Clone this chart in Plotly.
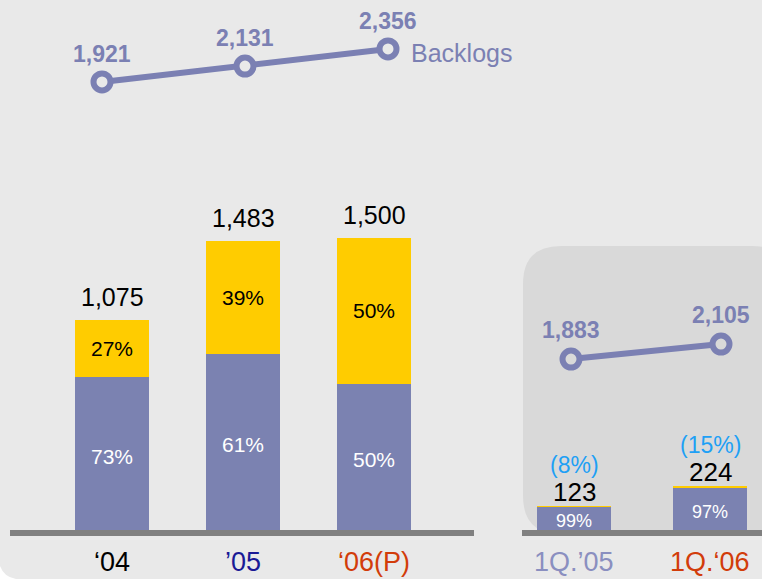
import plotly.graph_objects as go

# ---------------- data ----------------
years = ["‘04", "’05", "‘06(P)"]
year_colors = ["#000000", "#1a1a96", "#d23c0a"]
totals = [1075, 1483, 1500]
blue_pct = [73, 61, 50]
yellow_pct = [27, 39, 50]

backlog_years = [1921, 2131, 2356]

quarters = ["1Q.’05", "1Q.‘06"]
quarter_colors = ["#8a8fc0", "#d23c0a"]
q_totals = [123, 224]
q_blue_pct = [99, 97]
q_yellow_pct = [1, 3]
q_growth = ["(8%)", "(15%)"]
backlog_quarters = [1883, 2105]

# ---------------- styles ----------------
W, H = 762, 579
BG = "#e9e9e9"
PANEL = "#d9d9d9"
BLUE = "#7b82b1"
YELLOW = "#ffcc00"
PURPLE = "#7b80b3"
FONT = "Arial, Liberation Sans, sans-serif"


def px(xp):
    return xp / W


def py(yp):
    return (H - yp) / H


fig = go.Figure()

# derived stacked values
blue_vals = [t * p / 100 for t, p in zip(totals, blue_pct)]
yellow_vals = [t * p / 100 for t, p in zip(totals, yellow_pct)]
q_blue_vals = [t * p / 100 for t, p in zip(q_totals, q_blue_pct)]
q_yellow_vals = [t * p / 100 for t, p in zip(q_totals, q_yellow_pct)]

fig.add_trace(go.Bar(x=years, y=blue_vals, marker=dict(color=BLUE, line=dict(width=0)),
                     width=0.565, xaxis="x", yaxis="y", hoverinfo="skip"))
fig.add_trace(go.Bar(x=years, y=yellow_vals, marker=dict(color=YELLOW, line=dict(width=0)),
                     width=0.565, xaxis="x", yaxis="y", hoverinfo="skip"))
fig.add_trace(go.Bar(x=quarters, y=q_blue_vals, marker=dict(color=BLUE, line=dict(width=0)),
                     width=0.544, xaxis="x2", yaxis="y2", hoverinfo="skip"))
fig.add_trace(go.Bar(x=quarters, y=q_yellow_vals, marker=dict(color=YELLOW, line=dict(width=0)),
                     width=0.544, xaxis="x2", yaxis="y2", hoverinfo="skip"))

# backlog lines
fig.add_trace(go.Scatter(x=years, y=backlog_years, mode="lines+markers", xaxis="x3", yaxis="y3",
                         line=dict(color=PURPLE, width=6),
                         marker=dict(size=17, color=BG, line=dict(color=PURPLE, width=6)),
                         cliponaxis=False, hoverinfo="skip"))
fig.add_trace(go.Scatter(x=quarters, y=backlog_quarters, mode="lines+markers", xaxis="x4", yaxis="y4",
                         line=dict(color=PURPLE, width=6),
                         marker=dict(size=17, color=PANEL, line=dict(color=PURPLE, width=6)),
                         cliponaxis=False, hoverinfo="skip"))

ann = []
# line labels
for c, v in zip(years, backlog_years):
    ann.append(dict(x=c, y=v, xref="x3", yref="y3", text=f"<b>{v:,}</b>", showarrow=False,
                    yanchor="middle", yshift=28, font=dict(size=23, color=PURPLE, family=FONT)))
ann.append(dict(x=years[-1], y=backlog_years[-1], xref="x3", yref="y3", text="Backlogs", showarrow=False,
                xanchor="left", yanchor="middle", xshift=21, yshift=-4,
                font=dict(size=25, color=PURPLE, family=FONT)))
for c, v in zip(quarters, backlog_quarters):
    ann.append(dict(x=c, y=v, xref="x4", yref="y4", text=f"<b>{v:,}</b>", showarrow=False,
                    yanchor="middle", yshift=29, font=dict(size=23, color=PURPLE, family=FONT)))

# bar labels (left)
for c, t, b, yv, bp, ypct in zip(years, totals, blue_vals, yellow_vals, blue_pct, yellow_pct):
    ann.append(dict(x=c, y=t, xref="x", yref="y", text=f"{t:,}", showarrow=False, yanchor="middle",
                    yshift=23, font=dict(size=25, color="#000000", family=FONT)))
    ann.append(dict(x=c, y=b / 2, xref="x", yref="y", text=f"{bp}%", showarrow=False, yanchor="middle",
                    yshift=-3, font=dict(size=21, color="#ffffff", family=FONT)))
    ann.append(dict(x=c, y=b + yv / 2, xref="x", yref="y", text=f"{ypct}%", showarrow=False,
                    yanchor="middle", font=dict(size=21, color="#000000", family=FONT)))
# category labels
for c, col in zip(years, year_colors):
    ann.append(dict(x=c, y=0, xref="x", yref="y", text=c, showarrow=False, yanchor="middle",
                    yshift=-32, borderpad=0, font=dict(size=27, color=col, family=FONT)))
for c, col in zip(quarters, quarter_colors):
    ann.append(dict(x=c, y=0, xref="x2", yref="y2", text=c, showarrow=False, yanchor="middle",
                    yshift=-32, borderpad=0, font=dict(size=27, color=col, family=FONT)))

# bar labels (right)
for c, t, b, bp, g in zip(quarters, q_totals, q_blue_vals, q_blue_pct, q_growth):
    ann.append(dict(x=c, y=t, xref="x2", yref="y2", text=f"{t:,}", showarrow=False, yanchor="middle",
                    yshift=14, font=dict(size=26, color="#000000", family=FONT)))
    ann.append(dict(x=c, y=t, xref="x2", yref="y2", text=g, showarrow=False, yanchor="middle",
                    yshift=41, font=dict(size=23, color="#1ea0f5", family=FONT)))
    ann.append(dict(x=c, y=b / 2, xref="x2", yref="y2", text=f"{bp}%", showarrow=False, yanchor="middle",
                    yshift=-3, font=dict(size=18, color="#ffffff", family=FONT)))

# shapes
r = 38
x0, x1, y0, y1 = 523, 790, 246, 534
panel_path = (
    f"M {px(x0)},{py(y0 + r)} Q {px(x0)},{py(y0)} {px(x0 + r)},{py(y0)} "
    f"L {px(x1 - r)},{py(y0)} Q {px(x1)},{py(y0)} {px(x1)},{py(y0 + r)} "
    f"L {px(x1)},{py(y1 - r)} Q {px(x1)},{py(y1)} {px(x1 - r)},{py(y1)} "
    f"L {px(x0 + r)},{py(y1)} Q {px(x0)},{py(y1)} {px(x0)},{py(y1 - r)} Z"
)
corner_path = f"M {px(0)},{py(566)} Q {px(4)},{py(577)} {px(16)},{py(579)} L {px(0)},{py(579)} Z"
shapes = [
    dict(type="path", path=panel_path, xref="paper", yref="paper", fillcolor=PANEL,
         line=dict(width=0), layer="below"),
    dict(type="path", path=corner_path, xref="paper", yref="paper", fillcolor="#ffffff",
         line=dict(width=0), layer="below"),
    dict(type="line", xref="paper", yref="paper", x0=px(10), x1=px(474), y0=py(533), y1=py(533),
         line=dict(color="#808080", width=6), layer="above"),
    dict(type="line", xref="paper", yref="paper", x0=px(522), x1=px(762), y0=py(533), y1=py(533),
         line=dict(color="#808080", width=6), layer="above"),
]

split = px(500)
bar_dom = [py(530), py(130)]
bar_range = [0, 400 / 0.195]
hidden = dict(visible=False, showgrid=False, zeroline=False, fixedrange=True)

fig.update_layout(
    width=W, height=H, autosize=False,
    margin=dict(l=0, r=0, t=0, b=0, pad=0),
    paper_bgcolor=BG, plot_bgcolor="rgba(0,0,0,0)",
    barmode="stack", showlegend=False,
    font=dict(family=FONT),
    xaxis=dict(domain=[0, split], type="category", categoryorder="array", categoryarray=years,
               range=[-112 / 131, (500 - 112) / 131], anchor="y", **hidden),
    yaxis=dict(domain=bar_dom, range=bar_range, anchor="x", **hidden),
    xaxis2=dict(domain=[split, 1], type="category", categoryorder="array", categoryarray=quarters,
                range=[(500 - 574) / 136, (762 - 574) / 136], anchor="y2", **hidden),
    yaxis2=dict(domain=bar_dom, range=bar_range, anchor="x2", **hidden),
    xaxis3=dict(domain=[0, split], type="category", categoryorder="array", categoryarray=years,
                range=[-102 / 143, (500 - 102) / 143], anchor="y3", **hidden),
    yaxis3=dict(domain=[0, 1], range=[-4627, 3001], anchor="x3", **hidden),
    xaxis4=dict(domain=[split, 1], type="category", categoryorder="array", categoryarray=quarters,
                range=[(500 - 571) / 150, (762 - 571) / 150], anchor="y4", **hidden),
    yaxis4=dict(domain=[0, 1], range=[-1371, 7194], anchor="x4", **hidden),
    annotations=ann,
    shapes=shapes,
)

fig.write_html(
    "out.html",
    config=dict(displayModeBar=False),
    post_script="document.body.style.margin='0';document.body.style.overflow='hidden';",
)
